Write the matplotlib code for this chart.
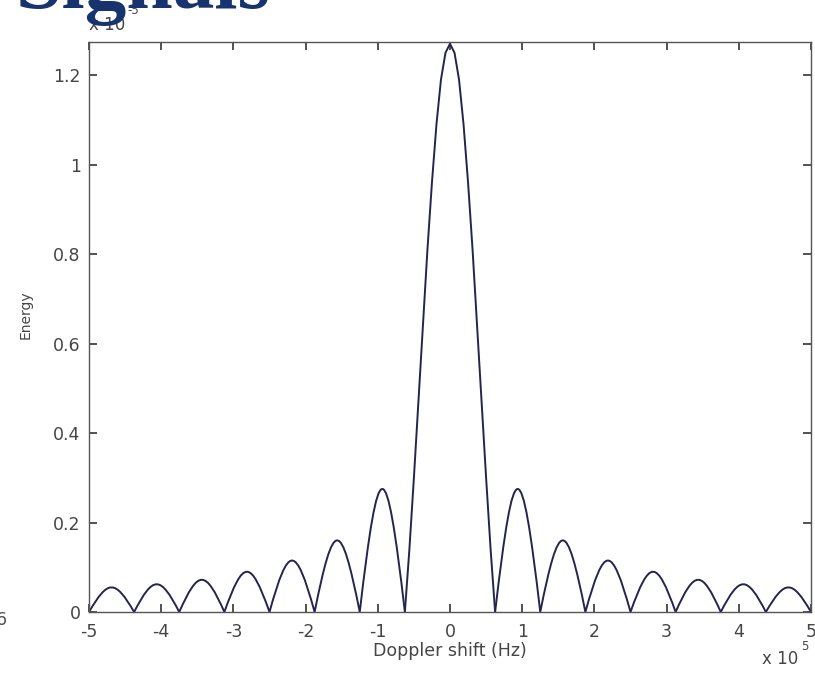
import matplotlib
matplotlib.use("Agg")
import matplotlib.pyplot as plt
from matplotlib.path import Path
from matplotlib.patches import PathPatch

# Null positions of the ambiguity cut (units of 1e5 Hz)
null_left = [-5.0, -4.375, -3.75, -3.125, -2.5, -1.875, -1.25, -0.625]
null_right = [0.625, 1.25, 1.875, 2.5, 3.125, 3.75, 4.375, 5.0]

# Sidelobe peak energies (units of 1e-5), listed from left to right
peaks_left = [0.055, 0.062, 0.072, 0.090, 0.115, 0.160, 0.275]
peaks_right = [0.275, 0.160, 0.115, 0.090, 0.072, 0.062, 0.055]

# Main lobe profile (Doppler shift, energy)
main_x = [-0.625, -0.5625, -0.5, -0.4375, -0.375, -0.3125, -0.25, -0.1875,
          -0.125, -0.0625, 0.0, 0.0625, 0.125, 0.1875, 0.25, 0.3125, 0.375,
          0.4375, 0.5, 0.5625, 0.625]
main_y = [0.0, 0.14, 0.30, 0.47, 0.64, 0.81, 0.96, 1.09, 1.19, 1.25, 1.27,
          1.25, 1.19, 1.09, 0.96, 0.81, 0.64, 0.47, 0.30, 0.14, 0.0]

xticks = [-5, -4, -3, -2, -1, 0, 1, 2, 3, 4, 5]
yticks = [0, 0.2, 0.4, 0.6, 0.8, 1.0, 1.2]
ytick_labels = ["0", "0.2", "0.4", "0.6", "0.8", "1", "1.2"]

W, H = 815, 682
fig = plt.figure(figsize=(W / 100, H / 100), dpi=100)
fig.patch.set_facecolor("white")

ax = fig.add_axes([89 / W, 1 - 612 / H, (811 - 89) / W, (612 - 42) / H])

line_color = "#24244f"
text_color = "#454545"


def lobe_path(nulls, peaks):
    """Smooth arches between consecutive nulls, built from cubic Bezier segments."""
    verts = [(nulls[0], 0.0)]
    codes = [Path.MOVETO]
    for z0, z1, h in zip(nulls[:-1], nulls[1:], peaks):
        w = z1 - z0
        a = 0.4244 * w
        c = 4.0 * h / 3.0
        verts += [(z0 + a, c), (z1 - a, c), (z1, 0.0)]
        codes += [Path.CURVE4] * 3
    return Path(verts, codes)


for nulls, peaks in ((null_left, peaks_left), (null_right, peaks_right)):
    ax.add_patch(PathPatch(lobe_path(nulls, peaks), fill=False,
                           edgecolor=line_color, lw=1.4))

ax.plot(main_x, main_y, color=line_color, lw=1.4, solid_joinstyle="round")

ax.set_xlim(-5, 5)
ax.set_ylim(0, 1.274)
ax.set_xticks(xticks)
ax.set_xticklabels([str(t) for t in xticks])
ax.set_yticks(yticks)
ax.set_yticklabels(ytick_labels)

for s in ax.spines.values():
    s.set_color("#555555")
    s.set_linewidth(1.0)

ax.tick_params(direction="in", length=6, width=1.2, color="#333333",
               top=True, right=True, labelsize=12.5, labelcolor=text_color)
ax.tick_params(axis="x", pad=8)
ax.tick_params(axis="y", pad=6)

ax.set_xlabel("Doppler shift (Hz)", fontsize=12.5, color=text_color, labelpad=1)
ax.set_ylabel("Energy", fontsize=10, color=text_color)
ax.yaxis.set_label_coords((33 - 89) / (811 - 89), (612 - 315) / (612 - 42))

# Exponent annotations
fig.text(762 / W, 1 - 659 / H, "x 10", fontsize=12, color=text_color,
         ha="left", va="center")
fig.text(801 / W, 1 - 646 / H, "5", fontsize=8.5, color=text_color,
         ha="left", va="center")
fig.text(89 / W, 1 - 25 / H, "x 10", fontsize=12, color=text_color,
         ha="left", va="center")
fig.text(127 / W, 1 - 11 / H, "-5", fontsize=8.5, color=text_color,
         ha="left", va="center")

# Slide heading and neighbouring label
fig.text(16 / W, 1 - 8 / H, "Signals", fontsize=60, fontweight="bold",
         family="Liberation Serif", color="#17346e", ha="left",
         va="baseline")
fig.text(-4 / W, 1 - 620 / H, "6", fontsize=12.5, color="#505050",
         ha="left", va="center")

fig.savefig("out.png", dpi=100, facecolor="white")
